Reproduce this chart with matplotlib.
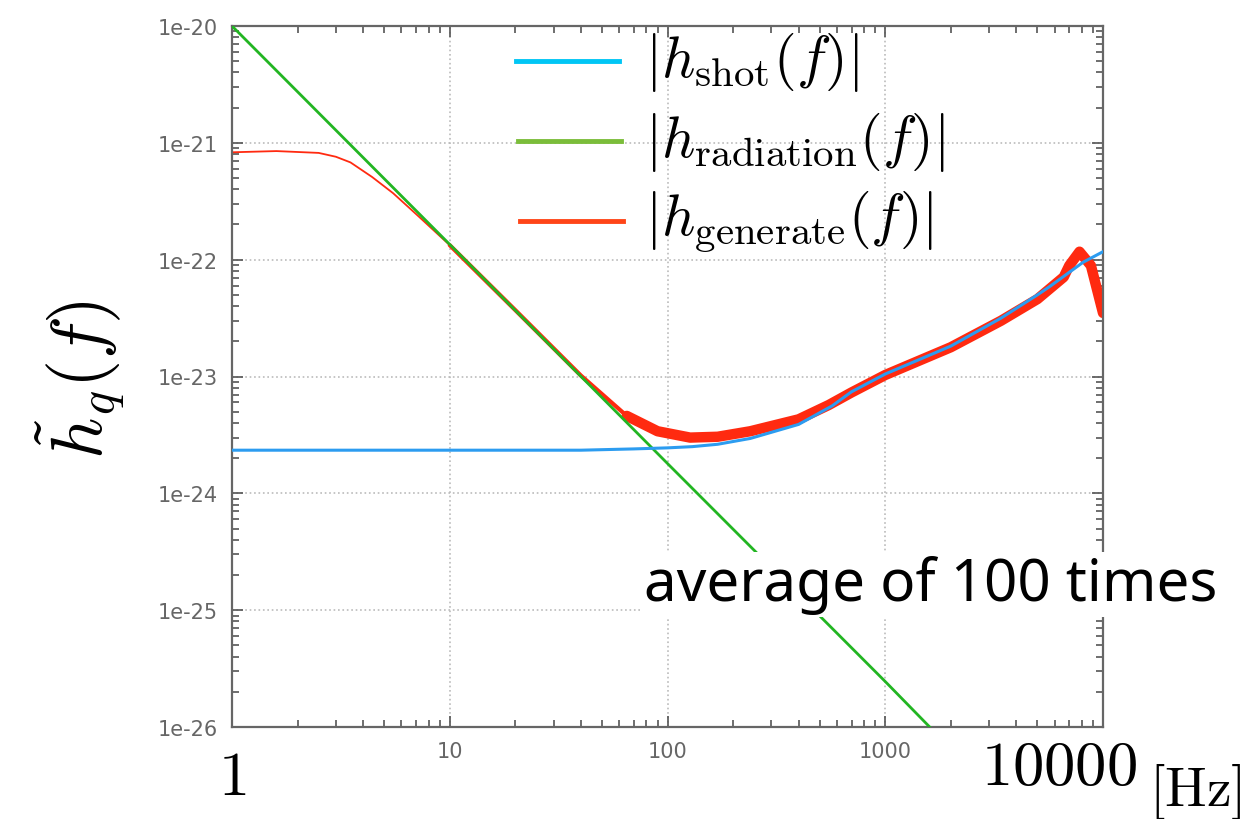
import numpy as np
import matplotlib.pyplot as plt
from matplotlib.lines import Line2D

plt.rcParams['mathtext.fontset'] = 'cm'

# values
freq_shot = [1, 10, 40, 70, 100, 130, 170, 240, 400, 570, 700, 1000, 2000, 3400, 5000, 5700, 8100, 10000]
h_shot = [2.34e-24, 2.34e-24, 2.34e-24, 2.40e-24, 2.45e-24, 2.51e-24, 2.63e-24, 2.95e-24, 3.89e-24,
          5.6e-24, 7.4e-24, 1.05e-23, 1.82e-23, 3.16e-23, 5.0e-23, 5.9e-23, 9.5e-23, 1.17e-22]

freq_rad = [1, 10, 100, 1000, 1600]
h_rad = [1e-20, 1.35e-22, 1.8e-24, 2.45e-26, 1e-26]

freq_gen = [1, 1.6, 2.5, 3.0, 3.5, 4.4, 5.5, 7.1, 10, 20, 40, 65, 90, 127, 170, 240, 400, 550, 700,
            1000, 2000, 3400, 5000, 6600, 7000, 7800, 8800, 10000]
h_gen = [8.3e-22, 8.5e-22, 8.2e-22, 7.6e-22, 6.8e-22, 5.1e-22, 3.7e-22, 2.4e-22, 1.33e-22, 3.7e-23,
         1.02e-23, 4.6e-24, 3.4e-24, 3.0e-24, 3.05e-24, 3.4e-24, 4.3e-24, 5.7e-24, 7.3e-24, 1.03e-23,
         1.78e-23, 3.0e-23, 4.6e-23, 7.1e-23, 8.9e-23, 1.17e-22, 8.9e-23, 3.5e-23]

yticks = [1e-20, 1e-21, 1e-22, 1e-23, 1e-24, 1e-25, 1e-26]
ytick_labels = ['1e-20', '1e-21', '1e-22', '1e-23', '1e-24', '1e-25', '1e-26']
xticks = [1, 10, 100, 1000, 10000]
xtick_labels = ['', '10', '100', '1000', '']

fig = plt.figure(figsize=(12.54, 8.2), dpi=100)
ax = fig.add_axes([232 / 1254, 1 - 728 / 820, (1103 - 232) / 1254, (728 - 27) / 820])

f = np.array(freq_gen)
h = np.array(h_gen)
# red curve gets thicker towards high frequencies
ax.plot(f[:9], h[:9], color='#ff2a10', lw=1.3, zorder=2)
ax.plot(f[8:12], h[8:12], color='#ff2a10', lw=3.0, zorder=2, solid_capstyle='round')
ax.plot(f[11:], h[11:], color='#ff2a10', lw=7.5, zorder=2, solid_capstyle='round')
ax.plot(freq_rad, h_rad, color='#22b522', lw=2.0, zorder=3)
ax.plot(freq_shot, h_shot, color='#2c9cf0', lw=2.2, zorder=4)

ax.set_xscale('log')
ax.set_yscale('log')
ax.set_xlim(1, 10000)
ax.set_ylim(1e-26, 1e-20)
ax.set_xticks(xticks)
ax.set_xticklabels(xtick_labels)
ax.set_yticks(yticks)
ax.set_yticklabels(ytick_labels)
ax.tick_params(which='both', direction='in', top=True, right=True, colors='#555555',
               labelcolor='#666666', labelsize=15, width=1.2)
ax.tick_params(which='major', length=8, pad=10)
ax.tick_params(which='minor', length=5)
ax.grid(True, which='major', linestyle=':', color='#bbbbbb', lw=1.2)
for s in ax.spines.values():
    s.set_color('#666666')
    s.set_linewidth(1.6)

# big labels drawn over the axis
fig.text(232 / 1254, 1 - 795 / 820, '$1$', fontsize=45, ha='center', va='baseline')
fig.text(1059 / 1254, 1 - 785 / 820, '$10000$', fontsize=45, ha='center', va='baseline')
fig.text(1195 / 1254, 1 - 806 / 820, r'$[\mathrm{Hz}]$', fontsize=40, ha='center', va='baseline')
fig.text(80 / 1254, 1 - 380 / 820, r'$\tilde{h}_q(f)$', fontsize=52, rotation=90,
         ha='center', va='center')

# legend built by hand
legend_rows = [
    (62, '#00c6f5', r'$|h_{\rm shot}(f)|$'),
    (142, '#7bbd3a', r'$|h_{\rm radiation}(f)|$'),
    (222, '#ff4518', r'$|h_{\rm generate}(f)|$'),
]
for i, (yy, c, lab) in enumerate(legend_rows):
    x0 = 516 + 2 * i
    fig.add_artist(Line2D([x0 / 1254, (x0 + 103) / 1254], [1 - yy / 820, 1 - yy / 820],
                          color=c, lw=3.5))
    fig.text(645 / 1254, 1 - yy / 820, lab, fontsize=42, ha='left', va='center')

fig.text(931 / 1254, 1 - 601 / 820, 'average of 100 times', fontsize=42, family='Noto Sans',
         fontweight='light', ha='center', va='baseline',
         bbox=dict(facecolor='white', edgecolor='none', pad=2))

fig.savefig('out.png', dpi=100)
